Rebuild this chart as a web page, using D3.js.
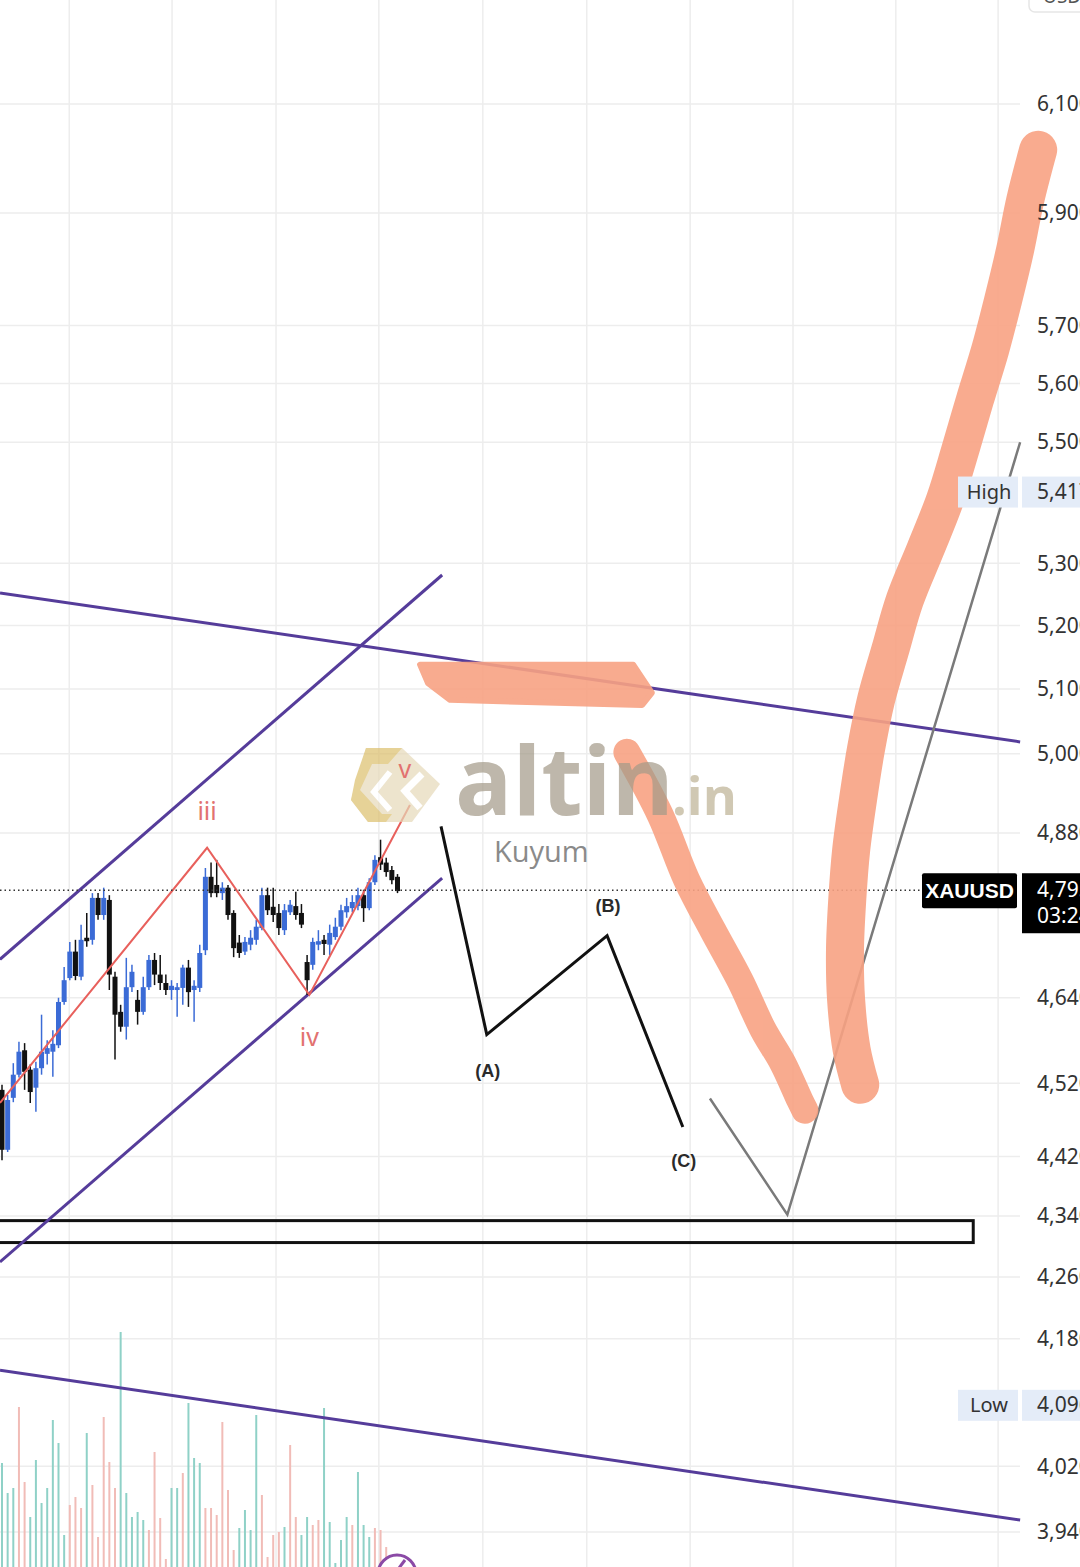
<!DOCTYPE html>
<html>
<head>
<meta charset="utf-8">
<script src="https://cdn.jsdelivr.net/npm/d3@7"></script>
<style>
  html, body { margin: 0; padding: 0; background: #fff; overflow: hidden; }
  svg { display: block; }
</style>
</head>
<body>
<div id="chart"></div>
<script>
// XAUUSD candles, [open, high, low, close]
var candles = [
  [4511,4518,4415,4429],[4429,4504,4426,4497],[4500,4548,4494,4532],[4532,4578,4528,4564],
  [4566,4576,4511,4536],[4539,4546,4493,4508],[4514,4550,4481,4541],[4541,4616,4532,4564],
  [4561,4580,4546,4569],[4564,4594,4529,4575],[4573,4640,4569,4634],[4634,4684,4630,4665],
  [4668,4720,4665,4706],[4706,4723,4665,4671],[4670,4745,4665,4723],[4726,4762,4713,4721],
  [4723,4791,4716,4784],[4784,4791,4752,4759],[4759,4799,4752,4784],[4781,4788,4651,4673],
  [4670,4677,4553,4616],[4620,4630,4592,4599],[4599,4697,4581,4655],[4655,4687,4648,4677],
  [4637,4651,4602,4620],[4620,4670,4616,4655],[4655,4701,4651,4694],[4694,4704,4658,4673],
  [4673,4701,4651,4661],[4661,4673,4644,4651],[4651,4665,4637,4657],[4651,4661,4613,4655],
  [4654,4687,4630,4683],[4683,4694,4627,4648],[4651,4665,4606,4657],[4654,4716,4648,4704],
  [4708,4828,4701,4815],[4815,4836,4785,4791],[4803,4840,4785,4791],[4791,4807,4781,4799],
  [4799,4803,4752,4759],[4762,4766,4698,4711],[4719,4730,4697,4704],[4706,4727,4701,4720],
  [4716,4737,4708,4726],[4723,4752,4716,4742],[4740,4799,4737,4788],[4788,4799,4759,4766],
  [4771,4799,4749,4759],[4762,4775,4730,4740],[4737,4775,4730,4766],[4763,4781,4759,4774],
  [4772,4793,4752,4759],[4762,4775,4740,4745],[4691,4701,4644,4665],[4687,4726,4680,4720],
  [4716,4737,4708,4721],[4723,4730,4701,4717],[4716,4745,4701,4733],[4727,4755,4723,4742],
  [4742,4774,4737,4766],[4763,4784,4755,4772],[4769,4788,4763,4778],[4772,4799,4766,4788],
  [4788,4796,4749,4769],[4769,4813,4766,4807],[4807,4847,4803,4840],[4844,4870,4825,4833],
  [4836,4843,4815,4822],[4825,4831,4804,4810],[4815,4819,4791,4794]
];

var volumes = [104,74,79,160,85,50,107,64,79,147,124,32,62,70,59,134,82,30,150,105,
  79,235,74,50,55,47,37,115,49,8,79,79,94,164,109,104,59,59,52,145,
  77,17,39,57,37,152,72,10,32,35,40,122,50,32,50,42,47,159,45,4,
  27,50,42,95,42,30,39,37,20,12,8];
var volumeDir = "uuudduuuuu" + "uudddudddd" + "duuuuudddd" + "uuduuudddd" +
                "dduuuudddd" + "udduudduuu" + "uuduuuddddd";

var priceTicks = [6100, 5900, 5700, 5600, 5500, 5300, 5200, 5100, 5000, 4880,
                  4640, 4520, 4420, 4340, 4260, 4180, 4020, 3940];
var timeGrid = [11.9, 30.1, 48.5, 66.7, 85.1, 103.5, 121.8, 140.0, 158.2, 176.3];

var symbol = "XAUUSD";
var lastPrice = 4795.24;
var countdown = "03:24:18";
var highPrice = 5417.63;
var lowPrice = 4096.41;

// drawings, [bar, price]
var channelTop = [[-0.35, 5252], [180.2, 5018]];
var channelBottom = [[-0.35, 4140], [180.2, 3954.5]];
var risingTop = [[-0.35, 4695], [77.9, 5281]];
var risingBottom = [[-0.35, 4279.5], [77.9, 4813]];
var wavePoints = [[-0.35, 4493], [36.3, 4858], [54.4, 4644], [72.2, 4922]];
var waveLabels = ["iii", "iv", "v"];
var abcPoints = [[77.7, 4890], [85.8, 4588], [107.1, 4729], [120.5, 4460]];
var abcLabels = ["(A)", "(B)", "(C)"];
var grayPath = [[125.3, 4499], [139.0, 4342], [180.2, 5500]];
var supportBox = [-3, 171.9, 4334, 4305];
var markBlob = [[74.0, 5138], [111.7, 5138], [115.0, 5094], [113.3, 5075], [79.3, 5083], [75.4, 5109]];
var markDown = [[110.6, 5002], [116.5, 4907], [121.2, 4810], [125.8, 4737], [130.6, 4665],
                [134.7, 4595], [138.2, 4548], [141.2, 4497], [142.1, 4483]];
var markUp = [[151.9, 4518], [150.4, 4566], [149.4, 4637], [149.2, 4708], [149.6, 4781],
              [150.3, 4855], [151.5, 4930], [152.9, 5006], [154.7, 5083], [157.2, 5161],
              [159.8, 5241], [163.4, 5322], [166.9, 5404], [169.6, 5487], [172.2, 5572],
              [174.9, 5658], [177.2, 5745], [179.3, 5833], [181.1, 5923], [183.4, 6015]];

var W = 1080, H = 1567, plotRight = 1020;

var svg = d3.select("#chart").append("svg")
  .attr("width", W)
  .attr("height", H)
  .style("font-family", "'Noto Sans', sans-serif");

var x = d3.scaleLinear().domain([0, 180]).range([2, 1019]);
var y = d3.scaleLog().domain([6100, 3940]).range([104, 1532]);
var yVol = d3.scaleLinear().domain([0, 250]).range([H, H - 250]);

var line = d3.line().x(function (d) { return x(d[0]); }).y(function (d) { return y(d[1]); });
var smooth = d3.line().curve(d3.curveCatmullRom)
  .x(function (d) { return x(d[0]); }).y(function (d) { return y(d[1]); });

// grid
var grid = svg.append("g");
grid.selectAll(".vg").data(timeGrid).enter().append("line")
  .attr("x1", function (d) { return x(d); }).attr("x2", function (d) { return x(d); })
  .attr("y1", 0).attr("y2", H)
  .attr("stroke", "#ededed").attr("stroke-width", 1.5);
grid.selectAll(".hg").data(priceTicks).enter().append("line")
  .attr("x1", 0).attr("x2", plotRight)
  .attr("y1", function (d) { return y(d); }).attr("y2", function (d) { return y(d); })
  .attr("stroke", "#ededed").attr("stroke-width", 1.5);

// volume
svg.append("g").selectAll("line").data(volumes).enter().append("line")
  .attr("x1", function (d, i) { return x(i); })
  .attr("x2", function (d, i) { return x(i); })
  .attr("y1", yVol(0))
  .attr("y2", function (d) { return yVol(d); })
  .attr("stroke", function (d, i) { return volumeDir[i] == "u" ? "#8fd1c7" : "#f1bcb7"; })
  .attr("stroke-width", 2);

// support box
svg.append("rect")
  .attr("x", x(supportBox[0]))
  .attr("y", y(supportBox[2]))
  .attr("width", x(supportBox[1]) - x(supportBox[0]))
  .attr("height", y(supportBox[3]) - y(supportBox[2]))
  .attr("fill", "none")
  .attr("stroke", "#111")
  .attr("stroke-width", 3);

// channels
[channelTop, channelBottom, risingTop, risingBottom].forEach(function (pts) {
  svg.append("path").attr("d", line(pts))
    .attr("fill", "none").attr("stroke", "#553c9a").attr("stroke-width", 3);
});

// candles
var bodyW = 5;
var cg = svg.append("g").selectAll("g").data(candles).enter().append("g")
  .attr("fill", function (d) { return d[3] >= d[0] ? "#3b6bd6" : "#111"; })
  .attr("stroke", function (d) { return d[3] >= d[0] ? "#3b6bd6" : "#111"; });
cg.append("line")
  .attr("x1", function (d, i) { return x(i); }).attr("x2", function (d, i) { return x(i); })
  .attr("y1", function (d) { return y(d[1]); }).attr("y2", function (d) { return y(d[2]); })
  .attr("stroke-width", 1.5);
cg.append("rect")
  .attr("x", function (d, i) { return x(i) - bodyW / 2; })
  .attr("width", bodyW)
  .attr("y", function (d) { return y(Math.max(d[0], d[3])); })
  .attr("height", function (d) { return Math.max(2, Math.abs(y(d[0]) - y(d[3]))); })
  .attr("stroke", "none");

// elliott wave line
svg.append("path").attr("d", line(wavePoints))
  .attr("fill", "none").attr("stroke", "#e8605c").attr("stroke-width", 2);

// current price line
svg.append("line")
  .attr("x1", 0).attr("x2", 922)
  .attr("y1", y(lastPrice)).attr("y2", y(lastPrice))
  .attr("stroke", "#333").attr("stroke-width", 1.5)
  .attr("stroke-dasharray", "1.5,3");

// ABC correction
svg.append("path").attr("d", line(abcPoints))
  .attr("fill", "none").attr("stroke", "#111").attr("stroke-width", 3);
var abcDy = [42, -24, 40];
svg.append("g").selectAll("text").data(abcLabels).enter().append("text")
  .attr("x", function (d, i) { return x(abcPoints[i + 1][0]) + 1; })
  .attr("y", function (d, i) { return y(abcPoints[i + 1][1]) + abcDy[i]; })
  .attr("text-anchor", "middle")
  .attr("font-family", "'Liberation Sans', Arial, sans-serif")
  .attr("font-weight", "bold")
  .attr("font-size", 18)
  .attr("fill", "#2a2a2a")
  .text(function (d) { return d; });

// projected path
svg.append("path").attr("d", line(grayPath))
  .attr("fill", "none").attr("stroke", "#7a7a7a").attr("stroke-width", 2.5);

// marker strokes
var markColor = "#f8a283";
var marks = svg.append("g").attr("opacity", 0.9);
marks.append("path")
  .attr("d", line(markBlob) + "Z")
  .attr("fill", markColor).attr("stroke", markColor)
  .attr("stroke-width", 6).attr("stroke-linejoin", "round");
marks.append("path")
  .attr("d", smooth(markDown))
  .attr("fill", "none").attr("stroke", markColor)
  .attr("stroke-width", 27).attr("stroke-linecap", "round").attr("stroke-linejoin", "round");
marks.append("path")
  .attr("d", smooth(markUp))
  .attr("fill", "none").attr("stroke", markColor)
  .attr("stroke-width", 38).attr("stroke-linecap", "round").attr("stroke-linejoin", "round");

// watermark
var wm = svg.append("g").attr("opacity", 0.7);
wm.append("polygon")
  .attr("points", "351,800 366,748 402,748 440,784 412,822 368,822")
  .attr("fill", "#e6d9b8");
wm.append("polygon")
  .attr("points", "366,748 402,748 388,764 372,764 360,790 382,814 392,814 386,822 368,822 351,800 355,780")
  .attr("fill", "#dcbf6c");
wm.append("polyline")
  .attr("points", "390,772 374,792 390,810")
  .attr("fill", "none").attr("stroke", "#fff").attr("stroke-width", 6);
wm.append("polyline")
  .attr("points", "422,774 405,791 420,808")
  .attr("fill", "none").attr("stroke", "#fff").attr("stroke-width", 7);
wm.append("text")
  .attr("x", 455).attr("y", 815)
  .attr("font-family", "'Open Sans', sans-serif")
  .attr("font-weight", "bold").attr("font-size", 95)
  .attr("fill", "#a39a88")
  .text("altin");
wm.append("text")
  .attr("x", 672).attr("y", 815)
  .attr("font-family", "'Open Sans', sans-serif")
  .attr("font-weight", "bold").attr("font-size", 52)
  .attr("fill", "#bdb294")
  .text(".in");
svg.append("text")
  .attr("x", 494).attr("y", 862)
  .attr("font-family", "'Open Sans', sans-serif")
  .attr("font-size", 29)
  .attr("fill", "#8a8a8a")
  .text("Kuyum");

// wave labels on top
var waveDy = [-28, 51, -27];
svg.append("g").selectAll("text").data(waveLabels).enter().append("text")
  .attr("x", function (d, i) { return x(wavePoints[i + 1][0]) + (i == 2 ? -5 : 0); })
  .attr("y", function (d, i) { return y(wavePoints[i + 1][1]) + waveDy[i]; })
  .attr("text-anchor", "middle")
  .attr("font-size", 25)
  .attr("fill", "#e27270")
  .text(function (d) { return d; });

// price axis
var fmt = d3.format(",.3f");
var axis = svg.append("g")
  .attr("transform", "translate(1030,0)")
  .call(d3.axisRight(y).tickValues(priceTicks).tickFormat(fmt).tickSize(0).tickPadding(7));
axis.select(".domain").remove();
axis.selectAll("text")
  .attr("font-family", "'Noto Sans', sans-serif")
  .attr("font-size", 21)
  .attr("fill", "#333");

// high / low labels
[["High", highPrice], ["Low", lowPrice]].forEach(function (d) {
  var yy = y(d[1]);
  svg.append("rect").attr("x", 958).attr("y", yy - 15).attr("width", 60).attr("height", 31)
    .attr("fill", "#e4ecf8");
  svg.append("rect").attr("x", 1022).attr("y", yy - 15).attr("width", 60).attr("height", 31)
    .attr("fill", "#e4ecf8");
  svg.append("text").attr("x", 989).attr("y", yy + 7).attr("text-anchor", "middle")
    .attr("font-size", 20).attr("fill", "#333").text(d[0]);
  svg.append("text").attr("x", 1037).attr("y", yy + 7)
    .attr("font-size", 21).attr("fill", "#333").text(fmt(d[1]));
});

// last price labels
var ly = y(lastPrice);
svg.append("rect").attr("x", 922).attr("y", ly - 17).attr("width", 95).attr("height", 35)
  .attr("fill", "#000").attr("rx", 2);
svg.append("text").attr("x", 969.5).attr("y", ly + 8).attr("text-anchor", "middle")
  .attr("font-family", "'Liberation Sans', Arial, sans-serif")
  .attr("font-weight", "bold").attr("font-size", 21).attr("fill", "#fff")
  .text(symbol);
svg.append("rect").attr("x", 1022).attr("y", ly - 17).attr("width", 60).attr("height", 60)
  .attr("fill", "#000");
svg.append("text").attr("x", 1037).attr("y", ly + 7)
  .attr("font-size", 21).attr("fill", "#fff").text(fmt(lastPrice));
svg.append("text").attr("x", 1037).attr("y", ly + 33)
  .attr("font-size", 21).attr("fill", "#fff").text(countdown);

// currency box, top right
svg.append("rect").attr("x", 1029).attr("y", -22).attr("width", 70).attr("height", 34)
  .attr("rx", 6).attr("fill", "#fff").attr("stroke", "#e6e6e6").attr("stroke-width", 1.5);
svg.append("text").attr("x", 1043).attr("y", 3)
  .attr("font-size", 19).attr("fill", "#555").text("USD");

// drawing tool icon, bottom
svg.append("circle").attr("cx", 397).attr("cy", 1574).attr("r", 19)
  .attr("fill", "#fff").attr("stroke", "#8b4aa6").attr("stroke-width", 3);
svg.append("line").attr("x1", 390).attr("y1", 1580).attr("x2", 405).attr("y2", 1560)
  .attr("stroke", "#8b4aa6").attr("stroke-width", 3);
</script>
</body>
</html>
